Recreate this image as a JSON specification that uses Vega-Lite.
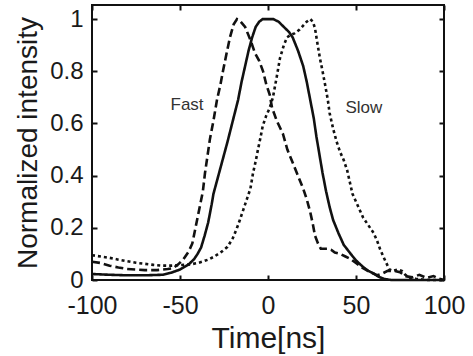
{
  "$schema": "https://vega.github.io/schema/vega-lite/v6.json",
  "width": 352,
  "height": 275,
  "autosize": "none",
  "padding": {"left": 92, "top": 5, "right": 29, "bottom": 76},
  "background": "white",
  "config": {
    "view": {"stroke": "#111", "strokeWidth": 2},
    "font": "Liberation Sans",
    "axis": {"grid": false}
  },
  "datasets": {
    "curves": [
      {"series": "Input", "t": -100, "v": 0.023},
      {"series": "Input", "t": -90, "v": 0.02},
      {"series": "Input", "t": -80, "v": 0.018},
      {"series": "Input", "t": -70, "v": 0.018},
      {"series": "Input", "t": -60, "v": 0.02},
      {"series": "Input", "t": -55, "v": 0.028},
      {"series": "Input", "t": -50, "v": 0.04},
      {"series": "Input", "t": -45, "v": 0.06},
      {"series": "Input", "t": -42, "v": 0.08},
      {"series": "Input", "t": -40, "v": 0.1},
      {"series": "Input", "t": -38, "v": 0.125},
      {"series": "Input", "t": -36, "v": 0.17},
      {"series": "Input", "t": -34, "v": 0.22},
      {"series": "Input", "t": -32, "v": 0.29},
      {"series": "Input", "t": -31, "v": 0.33},
      {"series": "Input", "t": -29, "v": 0.38},
      {"series": "Input", "t": -27, "v": 0.43},
      {"series": "Input", "t": -25, "v": 0.48},
      {"series": "Input", "t": -23, "v": 0.53},
      {"series": "Input", "t": -20, "v": 0.61},
      {"series": "Input", "t": -17, "v": 0.69},
      {"series": "Input", "t": -15, "v": 0.76},
      {"series": "Input", "t": -13, "v": 0.82},
      {"series": "Input", "t": -11, "v": 0.88},
      {"series": "Input", "t": -9, "v": 0.93},
      {"series": "Input", "t": -7, "v": 0.97},
      {"series": "Input", "t": -5, "v": 0.99},
      {"series": "Input", "t": -3, "v": 1.0},
      {"series": "Input", "t": 0, "v": 1.0},
      {"series": "Input", "t": 3, "v": 1.0},
      {"series": "Input", "t": 6, "v": 0.99},
      {"series": "Input", "t": 9, "v": 0.97},
      {"series": "Input", "t": 12, "v": 0.95},
      {"series": "Input", "t": 14, "v": 0.93},
      {"series": "Input", "t": 17, "v": 0.88},
      {"series": "Input", "t": 20, "v": 0.82},
      {"series": "Input", "t": 22, "v": 0.76},
      {"series": "Input", "t": 24, "v": 0.69},
      {"series": "Input", "t": 26, "v": 0.62},
      {"series": "Input", "t": 27.5, "v": 0.55},
      {"series": "Input", "t": 29, "v": 0.49},
      {"series": "Input", "t": 31, "v": 0.41},
      {"series": "Input", "t": 33, "v": 0.34},
      {"series": "Input", "t": 35, "v": 0.28},
      {"series": "Input", "t": 37, "v": 0.23},
      {"series": "Input", "t": 40, "v": 0.18},
      {"series": "Input", "t": 43, "v": 0.135},
      {"series": "Input", "t": 47, "v": 0.1},
      {"series": "Input", "t": 50, "v": 0.075},
      {"series": "Input", "t": 54, "v": 0.05},
      {"series": "Input", "t": 57, "v": 0.035},
      {"series": "Input", "t": 60, "v": 0.025},
      {"series": "Input", "t": 63, "v": 0.012},
      {"series": "Input", "t": 66, "v": 0.004},
      {"series": "Input", "t": 70, "v": 0.0},
      {"series": "Input", "t": 80, "v": 0.0},
      {"series": "Input", "t": 90, "v": 0.0},
      {"series": "Input", "t": 100, "v": 0.0},

      {"series": "Fast", "t": -100, "v": 0.07},
      {"series": "Fast", "t": -95, "v": 0.065},
      {"series": "Fast", "t": -90, "v": 0.055},
      {"series": "Fast", "t": -85, "v": 0.048},
      {"series": "Fast", "t": -80, "v": 0.042},
      {"series": "Fast", "t": -70, "v": 0.038},
      {"series": "Fast", "t": -63, "v": 0.038},
      {"series": "Fast", "t": -57, "v": 0.042},
      {"series": "Fast", "t": -54, "v": 0.045},
      {"series": "Fast", "t": -51, "v": 0.06},
      {"series": "Fast", "t": -48, "v": 0.08},
      {"series": "Fast", "t": -45, "v": 0.11},
      {"series": "Fast", "t": -43, "v": 0.14},
      {"series": "Fast", "t": -41.5, "v": 0.19},
      {"series": "Fast", "t": -40, "v": 0.24},
      {"series": "Fast", "t": -38.5, "v": 0.29},
      {"series": "Fast", "t": -37, "v": 0.34},
      {"series": "Fast", "t": -35.8, "v": 0.41},
      {"series": "Fast", "t": -34.5, "v": 0.47},
      {"series": "Fast", "t": -33, "v": 0.54},
      {"series": "Fast", "t": -31, "v": 0.61},
      {"series": "Fast", "t": -29, "v": 0.69},
      {"series": "Fast", "t": -27, "v": 0.75},
      {"series": "Fast", "t": -25.6, "v": 0.8},
      {"series": "Fast", "t": -23.5, "v": 0.87},
      {"series": "Fast", "t": -21.6, "v": 0.93},
      {"series": "Fast", "t": -19.5, "v": 0.98},
      {"series": "Fast", "t": -17.6, "v": 1.0},
      {"series": "Fast", "t": -15.5, "v": 0.99},
      {"series": "Fast", "t": -13, "v": 0.97},
      {"series": "Fast", "t": -10, "v": 0.92},
      {"series": "Fast", "t": -7.4, "v": 0.87},
      {"series": "Fast", "t": -5, "v": 0.84},
      {"series": "Fast", "t": -2.8, "v": 0.8},
      {"series": "Fast", "t": -1, "v": 0.75},
      {"series": "Fast", "t": 1, "v": 0.71},
      {"series": "Fast", "t": 2.3, "v": 0.66},
      {"series": "Fast", "t": 5, "v": 0.61},
      {"series": "Fast", "t": 8.5, "v": 0.56},
      {"series": "Fast", "t": 11, "v": 0.5},
      {"series": "Fast", "t": 14, "v": 0.45},
      {"series": "Fast", "t": 17, "v": 0.4},
      {"series": "Fast", "t": 20, "v": 0.35},
      {"series": "Fast", "t": 22, "v": 0.31},
      {"series": "Fast", "t": 24, "v": 0.26},
      {"series": "Fast", "t": 25.6, "v": 0.21},
      {"series": "Fast", "t": 26.7, "v": 0.17},
      {"series": "Fast", "t": 28.4, "v": 0.14},
      {"series": "Fast", "t": 30, "v": 0.12},
      {"series": "Fast", "t": 33.5, "v": 0.12},
      {"series": "Fast", "t": 36, "v": 0.115},
      {"series": "Fast", "t": 38, "v": 0.105},
      {"series": "Fast", "t": 41, "v": 0.1},
      {"series": "Fast", "t": 44, "v": 0.09},
      {"series": "Fast", "t": 47, "v": 0.08},
      {"series": "Fast", "t": 50, "v": 0.065},
      {"series": "Fast", "t": 54, "v": 0.045},
      {"series": "Fast", "t": 58, "v": 0.03},
      {"series": "Fast", "t": 62, "v": 0.018},
      {"series": "Fast", "t": 65, "v": 0.025},
      {"series": "Fast", "t": 68, "v": 0.035},
      {"series": "Fast", "t": 72, "v": 0.035},
      {"series": "Fast", "t": 75, "v": 0.03},
      {"series": "Fast", "t": 78, "v": 0.015},
      {"series": "Fast", "t": 82, "v": 0.01},
      {"series": "Fast", "t": 86, "v": 0.02},
      {"series": "Fast", "t": 90, "v": 0.008},
      {"series": "Fast", "t": 94, "v": 0.015},
      {"series": "Fast", "t": 97, "v": 0.005},
      {"series": "Fast", "t": 100, "v": 0.0},

      {"series": "Slow", "t": -100, "v": 0.095},
      {"series": "Slow", "t": -95, "v": 0.09},
      {"series": "Slow", "t": -90, "v": 0.085},
      {"series": "Slow", "t": -85, "v": 0.078},
      {"series": "Slow", "t": -80, "v": 0.072},
      {"series": "Slow", "t": -75, "v": 0.066},
      {"series": "Slow", "t": -70, "v": 0.062},
      {"series": "Slow", "t": -65, "v": 0.058},
      {"series": "Slow", "t": -60, "v": 0.055},
      {"series": "Slow", "t": -55, "v": 0.055},
      {"series": "Slow", "t": -50, "v": 0.057},
      {"series": "Slow", "t": -44, "v": 0.06},
      {"series": "Slow", "t": -40, "v": 0.065},
      {"series": "Slow", "t": -37.5, "v": 0.07},
      {"series": "Slow", "t": -34, "v": 0.078},
      {"series": "Slow", "t": -31, "v": 0.088},
      {"series": "Slow", "t": -27, "v": 0.105},
      {"series": "Slow", "t": -23, "v": 0.127},
      {"series": "Slow", "t": -20, "v": 0.16},
      {"series": "Slow", "t": -17.6, "v": 0.2},
      {"series": "Slow", "t": -16, "v": 0.23},
      {"series": "Slow", "t": -14, "v": 0.27},
      {"series": "Slow", "t": -12, "v": 0.31},
      {"series": "Slow", "t": -10, "v": 0.35},
      {"series": "Slow", "t": -8.5, "v": 0.41},
      {"series": "Slow", "t": -7, "v": 0.455},
      {"series": "Slow", "t": -5.7, "v": 0.5},
      {"series": "Slow", "t": -4.3, "v": 0.545},
      {"series": "Slow", "t": -3, "v": 0.59},
      {"series": "Slow", "t": -1, "v": 0.63},
      {"series": "Slow", "t": 1, "v": 0.66},
      {"series": "Slow", "t": 2.8, "v": 0.7},
      {"series": "Slow", "t": 5, "v": 0.78},
      {"series": "Slow", "t": 6.8, "v": 0.85},
      {"series": "Slow", "t": 9, "v": 0.9},
      {"series": "Slow", "t": 10.8, "v": 0.93},
      {"series": "Slow", "t": 13, "v": 0.94},
      {"series": "Slow", "t": 15, "v": 0.945},
      {"series": "Slow", "t": 18, "v": 0.96},
      {"series": "Slow", "t": 20, "v": 0.975},
      {"series": "Slow", "t": 22, "v": 0.99},
      {"series": "Slow", "t": 24, "v": 1.0},
      {"series": "Slow", "t": 25.5, "v": 0.99},
      {"series": "Slow", "t": 26.7, "v": 0.965},
      {"series": "Slow", "t": 28, "v": 0.91},
      {"series": "Slow", "t": 29.5, "v": 0.85},
      {"series": "Slow", "t": 31, "v": 0.8},
      {"series": "Slow", "t": 32.4, "v": 0.75},
      {"series": "Slow", "t": 34, "v": 0.69},
      {"series": "Slow", "t": 35, "v": 0.64},
      {"series": "Slow", "t": 37, "v": 0.58},
      {"series": "Slow", "t": 39, "v": 0.53},
      {"series": "Slow", "t": 41, "v": 0.49},
      {"series": "Slow", "t": 43, "v": 0.46},
      {"series": "Slow", "t": 45, "v": 0.42},
      {"series": "Slow", "t": 47, "v": 0.36},
      {"series": "Slow", "t": 48, "v": 0.33},
      {"series": "Slow", "t": 50, "v": 0.3},
      {"series": "Slow", "t": 52, "v": 0.27},
      {"series": "Slow", "t": 54, "v": 0.24},
      {"series": "Slow", "t": 57, "v": 0.21},
      {"series": "Slow", "t": 60, "v": 0.18},
      {"series": "Slow", "t": 62, "v": 0.15},
      {"series": "Slow", "t": 63.6, "v": 0.12},
      {"series": "Slow", "t": 65.5, "v": 0.09},
      {"series": "Slow", "t": 67.6, "v": 0.06},
      {"series": "Slow", "t": 69, "v": 0.04},
      {"series": "Slow", "t": 71, "v": 0.035},
      {"series": "Slow", "t": 74, "v": 0.04},
      {"series": "Slow", "t": 76, "v": 0.035},
      {"series": "Slow", "t": 78, "v": 0.02},
      {"series": "Slow", "t": 80, "v": 0.01},
      {"series": "Slow", "t": 84, "v": 0.005},
      {"series": "Slow", "t": 90, "v": 0.0},
      {"series": "Slow", "t": 100, "v": 0.0}
    ],
    "labels": [
      {"label": "Fast", "t": -46, "v": 0.67},
      {"label": "Slow", "t": 54.5, "v": 0.66}
    ]
  },
  "layer": [
    {
      "data": {"name": "curves"},
      "mark": {"type": "line", "color": "#111", "strokeCap": "butt"},
      "encoding": {
        "x": {
          "field": "t", "type": "quantitative",
          "scale": {"domain": [-100, 100], "nice": false, "zero": false},
          "axis": {
            "orient": "bottom", "values": [-100, -50, 0, 50, 100],
            "labelExpr": "datum.value < 0 ? '-' + abs(datum.value) : '' + datum.value",
            "domain": false, "tickSize": -5, "tickWidth": 2, "tickColor": "#111",
            "labelFontSize": 25, "labelColor": "#1a1a1a", "labelPadding": 18, "labelFlush": false,
            "title": "Time[ns]", "titleFontSize": 30, "titleFontWeight": "normal", "titleColor": "#1a1a1a", "titlePadding": 5
          }
        },
        "y": {
          "field": "v", "type": "quantitative",
          "scale": {"domain": [0, 1.054], "nice": false},
          "axis": {
            "orient": "left", "values": [0, 0.2, 0.4, 0.6, 0.8, 1], "format": "~g",
            "domain": false, "tickSize": -5, "tickWidth": 2, "tickColor": "#111",
            "labelFontSize": 24, "labelColor": "#1a1a1a", "labelPadding": 14, "labelFlush": false,
            "title": "Normalized intensity", "titleFontSize": 28, "titleFontWeight": "normal", "titleColor": "#1a1a1a", "titlePadding": 7
          }
        },
        "strokeDash": {
          "field": "series", "type": "nominal",
          "scale": {"domain": ["Fast", "Input", "Slow"], "range": [[8, 4], [1, 0], [3, 3]]},
          "legend": null
        },
        "strokeWidth": {
          "field": "series", "type": "nominal",
          "scale": {"domain": ["Fast", "Input", "Slow"], "range": [2.6, 2.6, 3]},
          "legend": null
        },
        "detail": {"field": "series"}
      }
    },
    {
      "data": {"name": "labels"},
      "mark": {"type": "text", "fontSize": 17, "color": "#333", "font": "Liberation Sans"},
      "encoding": {
        "x": {"field": "t", "type": "quantitative", "axis": null},
        "y": {"field": "v", "type": "quantitative", "axis": null},
        "text": {"field": "label"}
      }
    },
    {
      "data": {"name": "labels"},
      "mark": {"type": "point", "opacity": 0},
      "encoding": {
        "x": {
          "field": "t", "type": "quantitative",
          "axis": {"orient": "top", "values": [-100, -50, 0, 50, 100], "labels": false, "domain": false, "tickSize": -5, "tickWidth": 2, "tickColor": "#111", "title": null}
        },
        "y": {
          "field": "v", "type": "quantitative",
          "axis": {"orient": "right", "values": [0, 0.2, 0.4, 0.6, 0.8, 1], "labels": false, "domain": false, "tickSize": -5, "tickWidth": 2, "tickColor": "#111", "title": null}
        }
      }
    }
  ],
  "resolve": {"axis": {"x": "independent", "y": "independent"}}
}
